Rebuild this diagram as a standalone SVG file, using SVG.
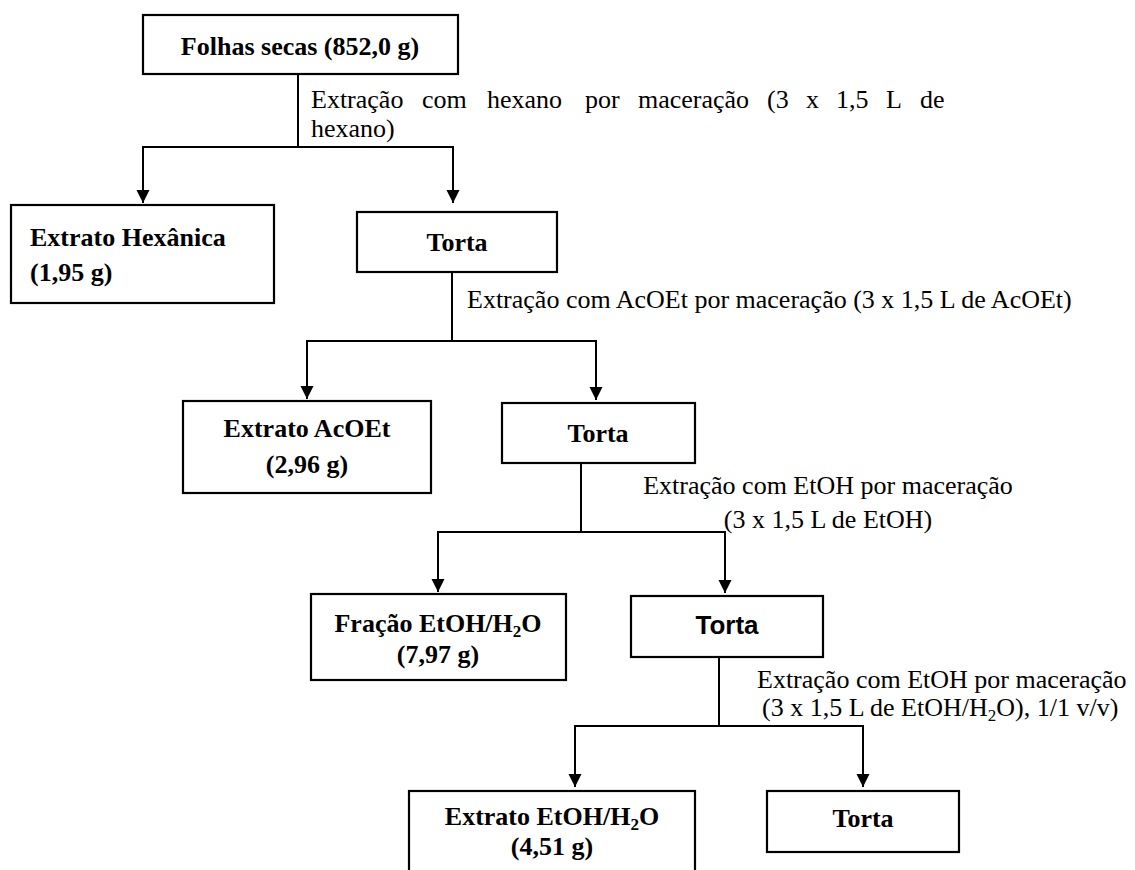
<svg xmlns="http://www.w3.org/2000/svg" width="1135" height="870" viewBox="0 0 1135 870">
<style>
.box{fill:#fff;stroke:#000;stroke-width:2.2}
.b{font-family:"Liberation Serif","Times New Roman",serif;font-weight:bold;font-size:26px;fill:#000}
.bs{font-family:"Liberation Sans",Arial,sans-serif;font-weight:bold;font-size:26px;fill:#000}
.r{font-family:"Liberation Serif","Times New Roman",serif;font-size:26px;fill:#000}
.c{text-anchor:middle}
.con{fill:none;stroke:#000;stroke-width:2}
</style>
<defs>
<marker id="arr" markerWidth="14" markerHeight="14" refX="13" refY="6.5" orient="auto" markerUnits="userSpaceOnUse">
<path d="M0,0 L13,6.5 L0,13 z" fill="#000"/>
</marker>
</defs>
<rect width="1135" height="870" fill="#fff"/>
<g id="connectors">
<path class="con" d="M298,74 V147"/>
<path class="con" d="M298,147 H143 V203" marker-end="url(#arr)"/>
<path class="con" d="M298,147 H453 V203" marker-end="url(#arr)"/>
<path class="con" d="M452,272 V341"/>
<path class="con" d="M452,341 H307 V399" marker-end="url(#arr)"/>
<path class="con" d="M452,341 H596 V400" marker-end="url(#arr)"/>
<path class="con" d="M581,463 V532"/>
<path class="con" d="M581,532 H438 V592" marker-end="url(#arr)"/>
<path class="con" d="M581,532 H725 V593" marker-end="url(#arr)"/>
<path class="con" d="M719,657 V726"/>
<path class="con" d="M719,726 H575 V787" marker-end="url(#arr)"/>
<path class="con" d="M719,726 H863 V787" marker-end="url(#arr)"/>
</g>
<g id="labels">
<text class="r" y="108"><tspan x="311">Extração</tspan><tspan x="422">com</tspan><tspan x="487">hexano</tspan><tspan x="585">por</tspan><tspan x="638">maceração</tspan><tspan x="767">(3</tspan><tspan x="806">x</tspan><tspan x="836">1,5</tspan><tspan x="886">L</tspan><tspan x="920">de</tspan></text>
<text class="r" x="311" y="137">hexano)</text>
<text class="r" x="467" y="308">Extração com AcOEt por maceração (3 x 1,5 L de AcOEt)</text>
<text class="r c" x="828" y="494">Extração com EtOH por maceração</text>
<text class="r c" x="828" y="528">(3 x 1,5 L de EtOH)</text>
<text class="r" x="757" y="688">Extração com EtOH por maceração</text>
<text class="r" x="762" y="716">(3 x 1,5 L de EtOH/H<tspan font-size="17" dy="5">2</tspan><tspan dy="-5">O), 1/1 v/v)</tspan></text>
</g>
<g id="n1">
<rect class="box" x="143" y="15" width="315" height="59"/>
<text class="b c" x="300" y="55">Folhas secas (852,0 g)</text>
</g>
<g id="n2">
<rect class="box" x="11" y="205" width="263" height="98"/>
<text class="b" x="30" y="246">Extrato Hexânica</text>
<text class="b" x="30" y="281">(1,95 g)</text>
</g>
<g id="n3">
<rect class="box" x="357" y="212" width="200" height="60"/>
<text class="b c" x="457" y="251">Torta</text>
</g>
<g id="n4">
<rect class="box" x="183" y="401" width="248" height="92"/>
<text class="b c" x="307" y="437">Extrato AcOEt</text>
<text class="b c" x="307" y="473">(2,96 g)</text>
</g>
<g id="n5">
<rect class="box" x="502" y="403" width="193" height="60"/>
<text class="b c" x="598" y="442">Torta</text>
</g>
<g id="n6">
<rect class="box" x="311" y="594" width="255" height="86"/>
<text class="b c" x="438" y="632">Fração EtOH/H<tspan font-size="17" dy="5">2</tspan><tspan dy="-5">O</tspan></text>
<text class="b c" x="438" y="663">(7,97 g)</text>
</g>
<g id="n7">
<rect class="box" x="631" y="596" width="192" height="61"/>
<text class="bs c" x="727" y="634">Torta</text>
</g>
<g id="n8">
<rect class="box" x="409" y="791" width="286" height="95"/>
<text class="b c" x="552" y="825">Extrato EtOH/H<tspan font-size="17" dy="5">2</tspan><tspan dy="-5">O</tspan></text>
<text class="b c" x="552" y="855">(4,51 g)</text>
</g>
<g id="n9">
<rect class="box" x="767" y="791" width="192" height="61"/>
<text class="b c" x="863" y="827">Torta</text>
</g>
</svg>
